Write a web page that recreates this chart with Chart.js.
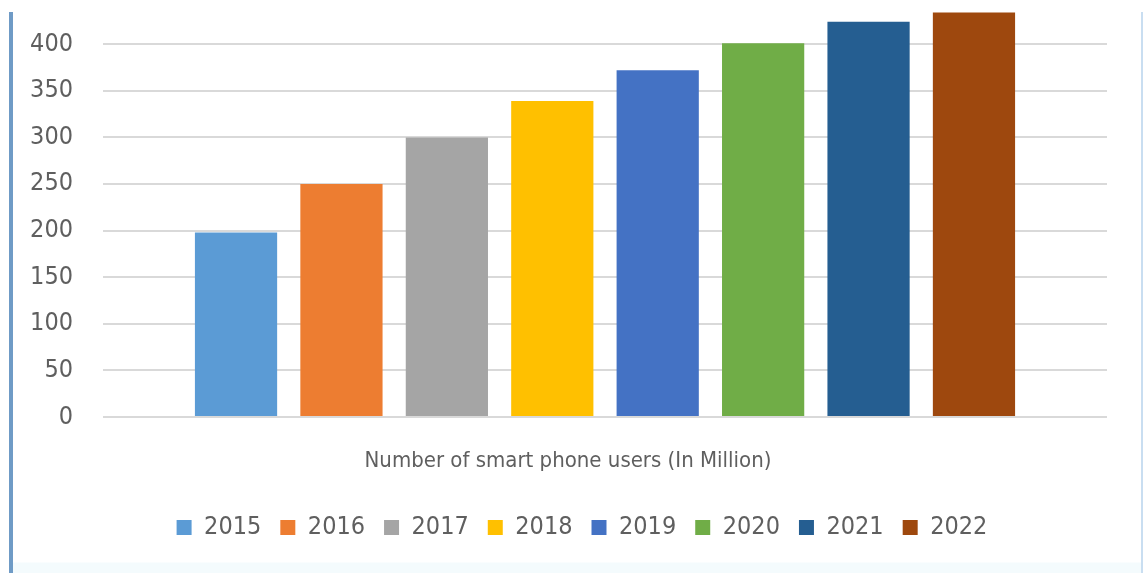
<!DOCTYPE html>
<html>
<head>
<meta charset="utf-8">
<script src="https://cdn.jsdelivr.net/npm/chart.js@4"></script>
<style>
  html, body { margin: 0; padding: 0; background: #fff; }
  #frame {
    position: absolute; left: 9px; top: 12px; width: 1128px; height: 561px;
    border-left: 4px solid #6f9bc6; border-right: 2px solid #c9def1;
    background: linear-gradient(to bottom, #fff 0, #fff 550px, #f4fbfd 551px);
  }
  #wrap { position: absolute; left: 0; top: 0; width: 1144px; height: 573px; }
</style>
</head>
<body>
<div id="frame"></div>
<div id="wrap"><canvas id="usersChart"></canvas></div>
<script>
const category = ["Number of smart phone users (In Million)"];
const years = ["2015", "2016", "2017", "2018", "2019", "2020", "2021", "2022"];
const users = [198, 250, 300, 339, 372, 401, 424, 450];
const colors = ["#5b9bd5", "#ed7d31", "#a5a5a5", "#ffc000", "#4472c4", "#70ad47", "#255e91", "#9e480e"];
const yTicks = [0, 50, 100, 150, 200, 250, 300, 350, 400];

const font = "'Liberation Sans Narrow', 'DejaVu Sans Condensed', sans-serif";
const grey = "#5f5f5f";

new Chart(document.getElementById("usersChart"), {
  type: "bar",
  data: {
    labels: category,
    datasets: years.map((y, i) => ({
      label: y,
      data: [users[i]],
      backgroundColor: colors[i],
      borderWidth: 0,
    })),
  },
  options: {
    responsive: true,
    maintainAspectRatio: false,
    animation: false,
    categoryPercentage: 0.84,
    barPercentage: 0.78,
    layout: {
      padding: { top: 12, left: 20, right: 0, bottom: 23 },
    },
    plugins: {
      tooltip: { enabled: false },
      legend: {
        position: "bottom",
        labels: {
          boxWidth: 15,
          boxHeight: 15,
          padding: 19,
          color: grey,
          font: { family: font, size: 25 },
        },
      },
    },
    scales: {
      x: {
        grid: { display: false, drawTicks: false },
        border: { display: false },
        ticks: {
          padding: 31,
          labelOffset: -37,
          color: grey,
          font: { family: font, size: 22 },
        },
        afterFit: (s) => { s.height = 79; },
      },
      y: {
        min: 0,
        max: 434,
        afterBuildTicks: (axis) => {
          axis.ticks = yTicks.map((v) => ({ value: v }));
        },
        grid: { color: "#d9d9d9", lineWidth: 2, tickLength: 30, tickColor: "rgba(0,0,0,0)" },
        border: { display: false },
        ticks: {
          padding: 0,
          color: grey,
          font: { family: font, size: 25, lineHeight: 1 },
        },
        afterFit: (s) => { s.width = 83; },
      },
      // empty right-hand axis, only keeps the plot's right margin
      y2: {
        position: "right",
        grid: { display: false },
        border: { display: false },
        ticks: { display: false },
        afterFit: (s) => { s.width = 37; },
      },
    },
  },
});
</script>
</body>
</html>
